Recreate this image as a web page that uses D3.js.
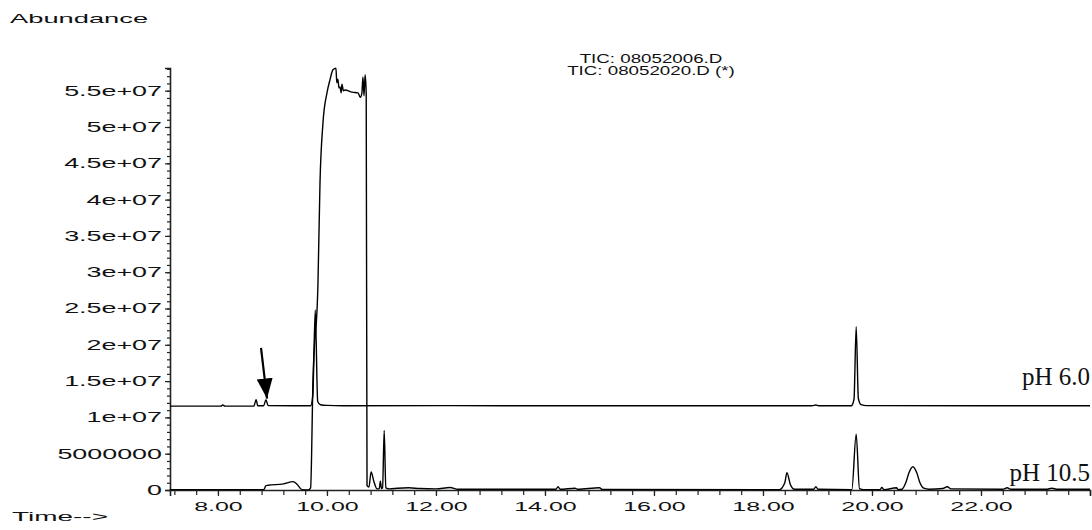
<!DOCTYPE html>
<html>
<head>
<meta charset="utf-8">
<script src="https://cdn.jsdelivr.net/npm/d3@7"></script>
<style>
  body { margin: 0; background: #fff; }
  svg text { font-family: "Liberation Sans", Arial, sans-serif; fill: #111; }
</style>
</head>
<body>
<div id="graph1"></div>
<script>
const width = 1092, height = 530;

// retention time (min), abundance
const tracePH6 = [
  [7.12, 11.55e6], [8.05, 11.55e6], [8.09, 11.7e6], [8.13, 11.55e6],
  [8.66, 11.57e6], [8.70, 12.45e6], [8.73, 11.6e6], [8.84, 11.6e6],
  [8.88, 12.45e6], [8.92, 11.62e6], [9.70, 11.6e6], [9.74, 13.0e6],
  [9.785, 24.8e6], [9.83, 12.2e6], [9.88, 11.75e6], [10.0, 11.65e6],
  [10.3, 11.6e6], [12.3, 11.62e6], [14.2, 11.6e6], [16.0, 11.6e6],
  [18.9, 11.6e6], [18.97, 11.7e6], [19.02, 11.6e6], [19.62, 11.6e6],
  [19.67, 12.5e6], [19.71, 22.5e6], [19.75, 12.6e6], [19.8, 11.75e6],
  [19.9, 11.62e6], [24.0, 11.6e6]
];

const tracePH105 = [
  [7.12, 0.05e6], [8.84, 0.05e6], [8.88, 0.6e6], [8.92, 0.65e6],
  [9.2, 0.85e6], [9.38, 1.15e6], [9.45, 0.8e6], [9.54, 0.05e6],
  [9.66, 0.02e6], [9.70, 0.3e6], [9.743, 15e6], [9.835, 28.5e6],
  [9.872, 42.3e6], [9.927, 50.6e6], [10.0, 54.7e6], [10.055, 56.5e6],
  [10.11, 57.9e6], [10.165, 58.1e6], [10.18, 56.1e6], [10.2, 56.6e6],
  [10.22, 55.4e6], [10.24, 55.5e6], [10.26, 54.7e6], [10.275, 55.9e6],
  [10.3, 55.0e6], [10.33, 55.1e6], [10.46, 54.8e6], [10.57, 54.7e6],
  [10.61, 54.1e6], [10.64, 54.6e6], [10.66, 56.9e6], [10.68, 54.3e6],
  [10.70, 57.2e6], [10.72, 54.7e6], [10.735, 0.6e6], [10.77, 0.4e6],
  [10.81, 2.5e6], [10.86, 1.2e6], [10.92, 0.15e6], [10.96, 0.2e6],
  [10.98, 1.2e6], [11.0, 0.2e6], [11.02, 0.3e6], [11.05, 8.2e6],
  [11.08, 0.3e6], [11.15, 0.15e6], [11.3, 0.25e6], [11.5, 0.3e6],
  [11.7, 0.2e6], [12.0, 0.15e6], [12.26, 0.35e6], [12.4, 0.1e6],
  [14.2, 0.1e6], [14.24, 0.45e6], [14.28, 0.1e6], [14.55, 0.25e6],
  [14.6, 0.1e6], [15.0, 0.3e6], [15.05, 0.08e6], [18.3, 0.05e6],
  [18.40, 1.0e6], [18.44, 2.4e6], [18.5, 0.8e6], [18.58, 0.1e6],
  [18.93, 0.1e6], [18.97, 0.45e6], [19.01, 0.1e6], [19.63, 0.05e6],
  [19.71, 7.7e6], [19.77, 0.2e6], [19.85, 0.05e6], [20.15, 0.05e6],
  [20.18, 0.35e6], [20.22, 0.05e6], [20.45, 0.3e6], [20.48, 0.05e6],
  [20.55, 0.1e6], [20.62, 1.0e6], [20.68, 2.4e6], [20.75, 3.2e6],
  [20.82, 2.4e6], [20.88, 1.0e6], [20.95, 0.25e6], [21.05, 0.1e6],
  [21.3, 0.2e6], [21.38, 0.45e6], [21.45, 0.15e6], [22.4, 0.1e6],
  [22.48, 0.3e6], [22.55, 0.1e6], [23.2, 0.1e6], [23.3, 0.25e6],
  [23.4, 0.1e6], [24.0, 0.1e6]
];

const xMajorTicks = [8, 10, 12, 14, 16, 18, 20, 22];
const xMinorTicks = d3.range(36, 121, 2).map(d => d / 5);   // every 0.4 min
const yMajorTicks = [0, 5e6, 1e7, 1.5e7, 2e7, 2.5e7, 3e7, 3.5e7, 4e7, 4.5e7, 5e7, 5.5e7];
const yTickLabels = ["0", "5000000", "1e+07", "1.5e+07", "2e+07", "2.5e+07", "3e+07",
  "3.5e+07", "4e+07", "4.5e+07", "5e+07", "5.5e+07"];
const yMinorTicks = d3.range(0, 59).map(d => d * 1e6);

const titleLines = ["TIC: 08052006.D", "TIC: 08052020.D (*)"];
const traceLabels = [
  { text: "pH 6.0", t: 24.0, v: 14.46e6 },
  { text: "pH 10.5", t: 24.0, v: 1.24e6 }
];
const arrow = { from: [8.79, 19.56e6], to: [8.90, 12.6e6] };

let svg = d3.select("#graph1")
    .append("svg")
    .attr("width", width)
    .attr("height", height);

let x = d3.scaleLinear().domain([7.12, 24.0]).range([170, 1090]);
let y = d3.scaleLinear().domain([0, 5.8127e7]).range([490, 68]);

// minor ticks
svg.append("g")
    .attr("transform", "translate(170,0)")
    .call(d3.axisLeft(y).tickValues(yMinorTicks).tickSize(3).tickFormat(""))
    .call(g => g.select(".domain").remove());
svg.append("g")
    .attr("transform", "translate(0,490)")
    .call(d3.axisBottom(x).tickValues(xMinorTicks).tickSize(5).tickFormat(""))
    .call(g => g.select(".domain").remove());

const Y_STRETCH = 1.92;
let yAxis = svg.append("g")
    .attr("transform", "translate(170,0)")
    .call(d3.axisLeft(y).tickValues(yMajorTicks).tickSize(5).tickPadding(2)
        .tickFormat((d, i) => yTickLabels[i]));
yAxis.selectAll("text")
    .style("font-size", "14px")
    .attr("x", -8 / Y_STRETCH)
    .attr("transform", `scale(${Y_STRETCH},1)`);

const X_STRETCH = 1.85;
let xAxis = svg.append("g")
    .attr("transform", "translate(0,490)")
    .call(d3.axisBottom(x).tickValues(xMajorTicks).tickSize(6).tickPadding(5)
        .tickFormat(d3.format(".2f")));
xAxis.selectAll("text")
    .style("font-size", "13.5px")
    .attr("x", 0)
    .attr("transform", `scale(${X_STRETCH},1)`);

svg.selectAll(".domain").attr("stroke", "#222").attr("stroke-width", 1.6);
svg.selectAll(".tick line").attr("stroke", "#222").attr("stroke-width", 1.2);

let line = d3.line()
    .x(d => x(d[0]))
    .y(d => y(d[1]))
    .curve(d3.curveMonotoneX);

[tracePH105, tracePH6].forEach(tr => {
  svg.append("path")
      .datum(tr)
      .attr("fill", "none")
      .attr("stroke", "#000")
      .attr("stroke-width", 1.4)
      .attr("stroke-linejoin", "round")
      .attr("d", line);
});

// arrow annotation
svg.append("defs").append("marker")
    .attr("id", "head")
    .attr("viewBox", "0 0 10 10")
    .attr("refX", 10).attr("refY", 5)
    .attr("markerWidth", 20).attr("markerHeight", 20)
    .attr("markerUnits", "userSpaceOnUse")
    .attr("orient", "auto")
    .append("path")
    .attr("d", "M0,1 L10,5 L0,9 z")
    .attr("fill", "#000");
svg.append("line")
    .attr("x1", x(arrow.from[0])).attr("y1", y(arrow.from[1]))
    .attr("x2", x(arrow.to[0])).attr("y2", y(arrow.to[1]))
    .attr("stroke", "#000")
    .attr("stroke-width", 2.2)
    .attr("marker-end", "url(#head)");

function stretchedText(px, py, str, size, anchor, sx) {
  svg.append("text")
      .attr("transform", `translate(${px},${py}) scale(${sx},1)`)
      .style("font-size", size + "px")
      .style("text-anchor", anchor)
      .text(str);
}

stretchedText(10, 23, "Abundance", 13, "start", 2.1);
stretchedText(12, 521, "Time-->", 13, "start", 2.15);
titleLines.forEach((t, i) => stretchedText(651, 63 + i * 11.5, t, 12.5, "middle", 1.5));

svg.selectAll(".phlabel")
    .data(traceLabels)
    .enter()
    .append("text")
    .attr("x", d => x(d.t))
    .attr("y", d => y(d.v))
    .style("font-family", "'Liberation Serif', 'Times New Roman', serif")
    .style("font-size", "25px")
    .style("text-anchor", "end")
    .text(d => d.text);
</script>
</body>
</html>
